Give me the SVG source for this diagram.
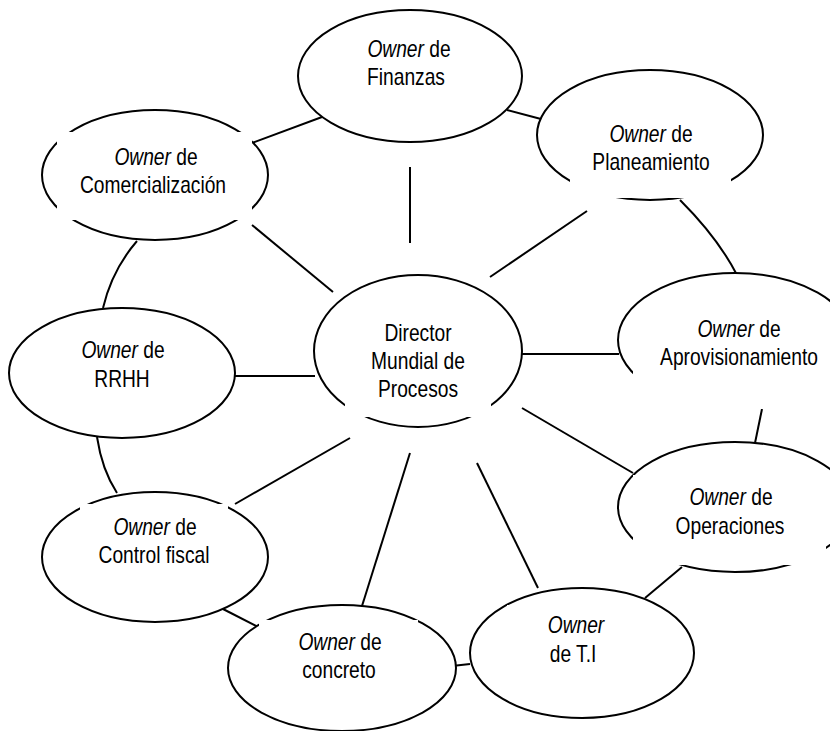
<svg xmlns="http://www.w3.org/2000/svg" width="830" height="731" viewBox="0 0 830 731">
<style>
.n{fill:#fff;stroke:#000;stroke-width:2}
.m{fill:#fff;stroke:none}
.c{fill:none;stroke:#000;stroke-width:2}
.t{font-family:"Liberation Sans",Arial,sans-serif;font-size:24px;text-anchor:middle;fill:#000}
.i{font-style:italic}
</style>
<rect width="830" height="731" fill="#fff"/>
<g id="connectors">
<line class="c" x1="252" y1="143" x2="322" y2="117"/>
<line class="c" x1="507" y1="110" x2="541" y2="119"/>
<path class="c" d="M680,200 Q718,238 737,275"/>
<line class="c" x1="762" y1="409" x2="755" y2="443"/>
<line class="c" x1="682" y1="567" x2="645" y2="598"/>
<line class="c" x1="452" y1="666" x2="470" y2="664"/>
<line class="c" x1="223" y1="609" x2="258" y2="627"/>
<path class="c" d="M97,437 Q102,470 117,493"/>
<path class="c" d="M137,241 Q112,270 103,308"/>
<line class="c" x1="410" y1="167" x2="410" y2="243"/>
<line class="c" x1="252" y1="225" x2="333" y2="292"/>
<line class="c" x1="587" y1="211" x2="490" y2="277"/>
<line class="c" x1="522" y1="354" x2="619" y2="354"/>
<line class="c" x1="235" y1="376" x2="315" y2="376"/>
<line class="c" x1="522" y1="408" x2="633" y2="473"/>
<line class="c" x1="477" y1="463" x2="538" y2="588"/>
<line class="c" x1="410" y1="453" x2="362" y2="606"/>
<line class="c" x1="350" y1="438" x2="235" y2="504"/>
</g>
<g id="finanzas">
<ellipse class="n" cx="410" cy="76" rx="112" ry="66"/>
<text class="t" transform="translate(409 57) scale(0.8 1)"><tspan class="i">Owner</tspan> de</text>
<text class="t" transform="translate(406 85) scale(0.8 1)">Finanzas</text>
</g>
<g id="planeamiento">
<ellipse class="n" cx="650" cy="135" rx="113" ry="65"/>
<rect class="m" x="570" y="110" width="161" height="88"/>
<text class="t" transform="translate(651 142) scale(0.8 1)"><tspan class="i">Owner</tspan> de</text>
<text class="t" transform="translate(651 170) scale(0.8 1)">Planeamiento</text>
</g>
<g id="comercializacion">
<ellipse class="n" cx="155" cy="175" rx="113" ry="65"/>
<rect class="m" x="57" y="132" width="195" height="88"/>
<text class="t" transform="translate(156 165) scale(0.8 1)"><tspan class="i">Owner</tspan> de</text>
<text class="t" transform="translate(153 193) scale(0.8 1)">Comercialización</text>
</g>
<g id="director">
<ellipse class="n" cx="418" cy="351" rx="104" ry="76"/>
<rect class="m" x="345" y="300" width="146" height="117"/>
<text class="t" transform="translate(418 341) scale(0.8 1)">Director</text>
<text class="t" transform="translate(418 369) scale(0.8 1)">Mundial de</text>
<text class="t" transform="translate(418 397) scale(0.8 1)">Procesos</text>
</g>
<g id="aprovisionamiento">
<ellipse class="n" cx="735" cy="340" rx="117" ry="67"/>
<rect class="m" x="633" y="310" width="200" height="99"/>
<text class="t" transform="translate(739 337) scale(0.8 1)"><tspan class="i">Owner</tspan> de</text>
<text class="t" transform="translate(739 365) scale(0.8 1)">Aprovisionamiento</text>
</g>
<g id="rrhh">
<ellipse class="n" cx="122" cy="373" rx="113" ry="65"/>
<text class="t" transform="translate(123 358) scale(0.8 1)"><tspan class="i">Owner</tspan> de</text>
<text class="t" transform="translate(122 387) scale(0.8 1)">RRHH</text>
</g>
<g id="operaciones">
<ellipse class="n" cx="735" cy="507" rx="117" ry="65"/>
<rect class="m" x="633" y="475" width="193" height="90"/>
<text class="t" transform="translate(731 505) scale(0.8 1)"><tspan class="i">Owner</tspan> de</text>
<text class="t" transform="translate(730 534) scale(0.8 1)">Operaciones</text>
</g>
<g id="control-fiscal">
<ellipse class="n" cx="155" cy="557" rx="113" ry="65"/>
<rect class="m" x="80" y="504" width="148" height="96"/>
<text class="t" transform="translate(155 535) scale(0.8 1)"><tspan class="i">Owner</tspan> de</text>
<text class="t" transform="translate(154 563) scale(0.8 1)">Control fiscal</text>
</g>
<g id="concreto">
<ellipse class="n" cx="342" cy="668" rx="114" ry="63"/>
<rect class="m" x="259" y="620" width="159" height="80"/>
<text class="t" transform="translate(340 650) scale(0.8 1)"><tspan class="i">Owner</tspan> de</text>
<text class="t" transform="translate(339 678) scale(0.8 1)">concreto</text>
</g>
<g id="ti">
<ellipse class="n" cx="582" cy="653" rx="112" ry="65"/>
<rect class="m" x="507" y="605" width="143" height="85"/>
<text class="t i" transform="translate(576 633) scale(0.8 1)">Owner</text>
<text class="t" transform="translate(573 662) scale(0.8 1)">de T.I</text>
</g>
</svg>
